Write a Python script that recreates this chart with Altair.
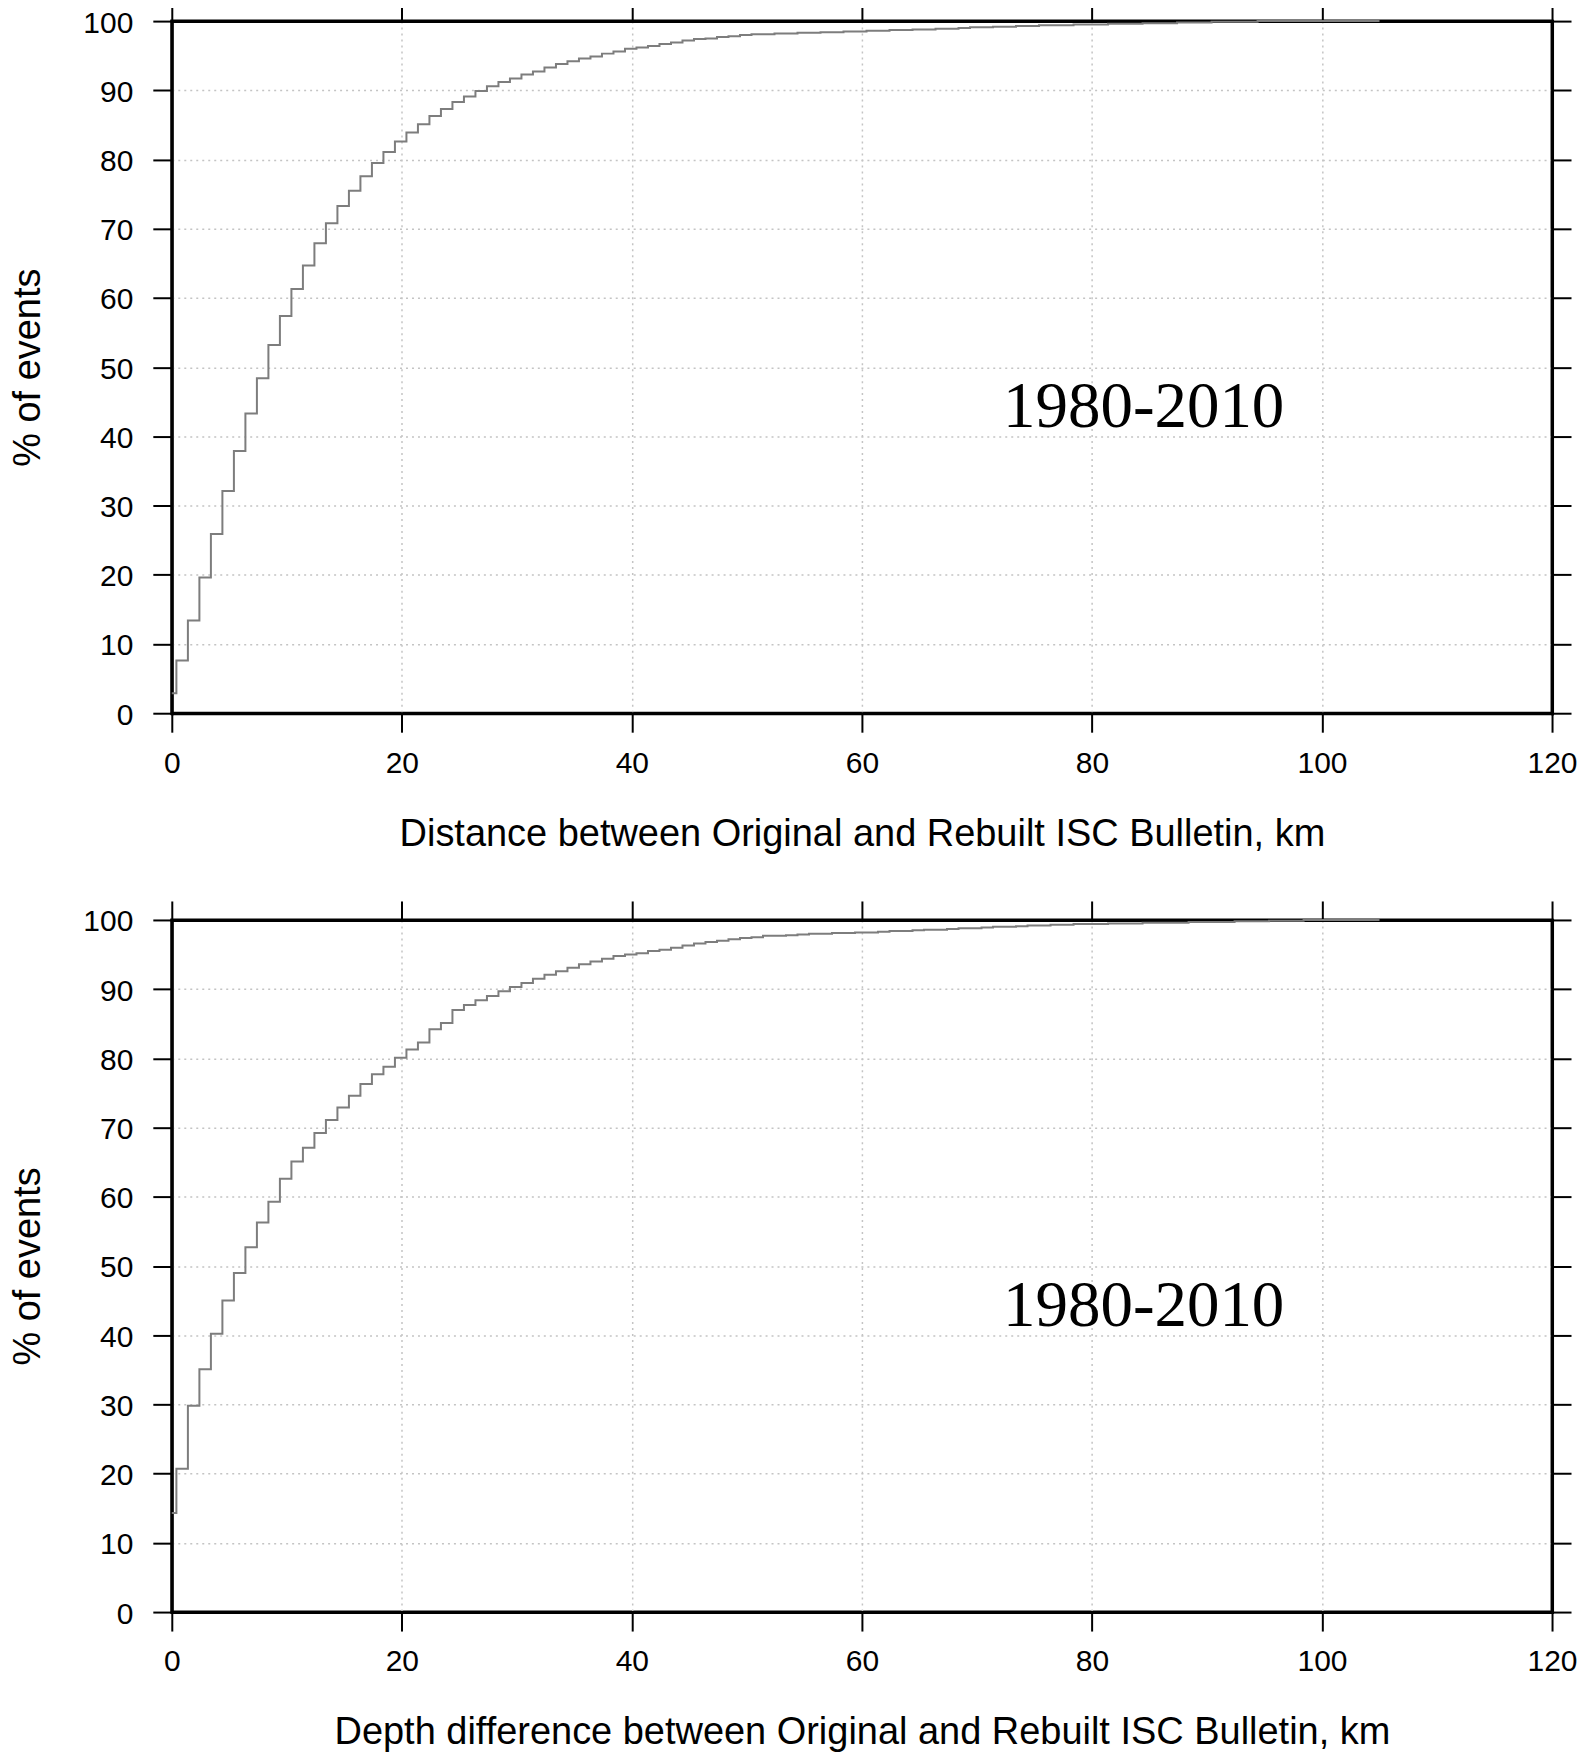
import altair as alt
import pandas as pd

# cumulative % of events per 1-km bin
dist_pct = [2.9, 7.6, 13.4, 19.6, 25.9, 32.1, 37.9, 43.3, 48.4, 53.2,
            57.4, 61.3, 64.7, 67.9, 70.8, 73.3, 75.5, 77.6, 79.5, 81.1,
            82.6, 83.9, 85.1, 86.3, 87.3, 88.3, 89.1, 89.9, 90.6, 91.2,
            91.7, 92.3, 92.7, 93.3, 93.8, 94.2, 94.6, 94.9, 95.3, 95.6,
            96.0, 96.2, 96.4, 96.7, 96.9, 97.2, 97.4, 97.5, 97.7, 97.8,
            98.0, 98.1, 98.1, 98.2, 98.2, 98.3, 98.3, 98.4, 98.4, 98.5,
            98.5, 98.6, 98.6, 98.7, 98.7, 98.8, 98.8, 98.9, 98.9, 99.0,
            99.1, 99.1, 99.2, 99.2, 99.3, 99.3, 99.4, 99.4, 99.4, 99.5,
            99.5, 99.5, 99.6, 99.6, 99.6, 99.7, 99.7, 99.7, 99.8, 99.8,
            99.8, 99.9, 99.9, 99.9, 99.9, 100.0, 100.0, 100.0, 100.0, 100.0]

depth_pct = [14.3, 20.7, 29.8, 35.1, 40.2, 45.0, 49.0, 52.7, 56.3, 59.3,
             62.6, 65.1, 67.1, 69.2, 71.1, 72.9, 74.6, 76.3, 77.7, 78.8,
             80.1, 81.3, 82.3, 84.2, 85.1, 87.0, 87.7, 88.4, 89.0, 89.7,
             90.3, 90.9, 91.5, 92.1, 92.6, 93.1, 93.6, 94.0, 94.4, 94.8,
             95.0, 95.2, 95.5, 95.7, 96.0, 96.3, 96.6, 96.8, 97.0, 97.2,
             97.4, 97.5, 97.7, 97.7, 97.8, 97.9, 98.0, 98.0, 98.1, 98.1,
             98.2, 98.2, 98.3, 98.4, 98.4, 98.5, 98.6, 98.6, 98.7, 98.8,
             98.8, 98.9, 99.0, 99.0, 99.1, 99.2, 99.2, 99.3, 99.3, 99.4,
             99.4, 99.4, 99.5, 99.5, 99.5, 99.6, 99.6, 99.6, 99.6, 99.7,
             99.7, 99.7, 99.7, 99.8, 99.8, 99.8, 99.9, 99.9, 99.9, 100.0]

x_ticks = [0, 20, 40, 60, 80, 100, 120]
y_ticks = [0, 10, 20, 30, 40, 50, 60, 70, 80, 90, 100]
x_titles = ["Distance between Original and Rebuilt ISC Bulletin, km",
            "Depth difference between Original and Rebuilt ISC Bulletin, km"]
y_title = "% of events"
period_label = "1980-2010"
label_pos = [84.5, 44.2]
bin_offset = 0.4     # first step edge (km)
line_end_km = 105

W, H = 1382, 693


def steps(vals):
    xs = [0.0] + [k - 1 + bin_offset for k in range(1, len(vals))] + [line_end_km]
    ys = list(vals) + [vals[-1]]
    return pd.DataFrame({"km": xs, "pct": ys})


def panel(vals, xtitle):
    xs = alt.Scale(domain=[0, 120], nice=False, zero=False)
    ys = alt.Scale(domain=[0, 100], nice=False)
    line = alt.Chart(steps(vals)).mark_line(
        interpolate="step-after", color="#7d7d7d", strokeWidth=2
    ).encode(
        x=alt.X("km:Q", scale=xs,
                axis=alt.Axis(orient="bottom", title=xtitle, values=x_ticks,
                              grid=True, labelFlush=False, labelPadding=16,
                              titlePadding=37)),
        y=alt.Y("pct:Q", scale=ys,
                axis=alt.Axis(orient="left", title=y_title, values=y_ticks,
                              grid=True, labelPadding=20, labelOffset=2,
                              titlePadding=35)),
    )
    lab = alt.Chart(pd.DataFrame({"x": [label_pos[0]], "y": [label_pos[1]],
                                  "t": [period_label]})).mark_text(
        font="Liberation Serif", fontSize=65, color="black",
        align="center", baseline="middle"
    ).encode(
        x=alt.X("x:Q", scale=xs,
                axis=alt.Axis(orient="top", title=None, labels=False,
                              grid=False, values=x_ticks, minExtent=0)),
        y=alt.Y("y:Q", scale=ys,
                axis=alt.Axis(orient="right", title=None, labels=False,
                              grid=False, values=y_ticks, minExtent=0)),
        text="t:N",
    )
    return alt.layer(line, lab).properties(width=W, height=H)


chart = alt.vconcat(
    panel(dist_pct, x_titles[0]),
    panel(depth_pct, x_titles[1]),
    spacing=43,
).properties(
    padding={"left": 0, "top": -10, "right": 0, "bottom": 0}
).configure_view(
    stroke="black", strokeWidth=3
).configure_axis(
    domain=True, domainColor="black", domainWidth=3, domainCap="square",
    zindex=1,
    labelFont="Liberation Sans", labelFontSize=30, labelColor="black",
    titleFont="Liberation Sans", titleFontSize=38, titleFontWeight="normal",
    titleColor="black",
    tickSize=19, tickWidth=2, tickColor="black",
    gridColor="#c4c4c4", gridDash=[2, 4], gridWidth=1.5,
)

chart.save("out.html", embed_options={"renderer": "svg", "actions": False})
